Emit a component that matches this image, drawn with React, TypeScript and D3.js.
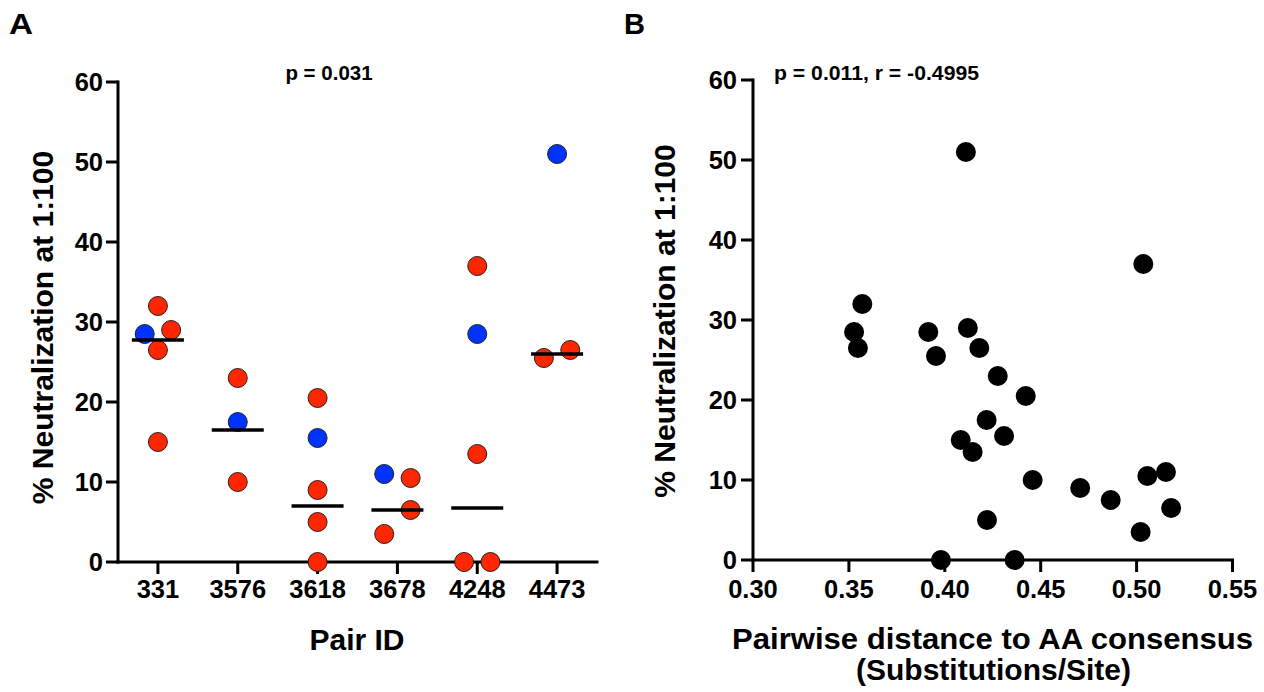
import React from "react";
import * as d3 from "d3";

// ---------- Panel A data ----------
const pairIds = ["331", "3576", "3618", "3678", "4248", "4473"];
const redValues: number[][] = [
  [32, 29, 26.5, 15],
  [23, 10],
  [20.5, 9, 5, 0],
  [10.5, 6.5, 3.5],
  [37, 13.5, 0, 0],
  [25.5, 26.5],
];
// horizontal dodge slot of each point (-1 left, 0 centre, 1 right)
const redDodge: number[][] = [
  [0, 1, 0, 0],
  [0, 0],
  [0, 0, 0, 0],
  [1, 1, -1],
  [0, 0, -1, 1],
  [-1, 1],
];
const blueValues = [28.5, 17.5, 15.5, 11, 28.5, 51];
const blueDodge = [-1, 0, 0, -1, 0, 0];
const yTicks = [0, 10, 20, 30, 40, 50, 60];

// ---------- Panel B data ----------
const distance = [
  0.411, 0.5035, 0.357, 0.3527, 0.3547, 0.3914, 0.3954, 0.412, 0.418, 0.4276,
  0.4422, 0.4218, 0.4309, 0.4083, 0.4145, 0.4458, 0.4706, 0.4865, 0.5056,
  0.5153, 0.518, 0.5021, 0.422, 0.398, 0.4364,
];
const neutralization = [
  51, 37, 32, 28.5, 26.5, 28.5, 25.5, 29, 26.5, 23, 20.5, 17.5, 15.5, 15, 13.5,
  10, 9, 7.5, 10.5, 11, 6.5, 3.5, 5, 0, 0,
];
const xTicksB = [0.3, 0.35, 0.4, 0.45, 0.5, 0.55];

const FONT = "'Liberation Sans', Arial, Helvetica, sans-serif";
const RED = "#ff2600";
const BLUE = "#0033ff";

export default function App() {
  // Panel A scales
  const xA = d3.scaleBand<string>().domain(pairIds).range([118, 597]);
  const cx = (id: string) => (xA(id) as number) + xA.bandwidth() / 2;
  const yA = d3.scaleLinear().domain([0, 60]).range([562, 82]);
  const dodgePx = 13.2;
  const medians = redValues.map((v) => d3.median(v) as number);

  // Panel B scales
  const xB = d3.scaleLinear().domain([0.3, 0.55]).range([753, 1232.5]);
  const yB = d3.scaleLinear().domain([0, 60]).range([560, 80]);
  const fmt = d3.format(".2f");

  const axisW = 3;
  const tickLen = 12;

  return (
    <svg
      width={1264}
      height={692}
      style={{ position: "fixed", left: 0, top: 0, background: "#fff" }}
      fontFamily={FONT}
      fontWeight="bold"
    >
      <rect x={0} y={0} width={1264} height={692} fill="#fff" />
      {/* ===== Panel A ===== */}
      <text x={9} y={34} fontSize={29} textLength={24} lengthAdjust="spacingAndGlyphs">A</text>
      <text x={329} y={80} fontSize={20.5} textAnchor="middle">p = 0.031</text>

      {/* y axis */}
      <line x1={xA.range()[0]} x2={xA.range()[0]} y1={yA(60)} y2={yA(0)} stroke="#000" strokeWidth={axisW} strokeLinecap="square" />
      {yTicks.map((t) => (
        <g key={"ya" + t}>
          <line x1={118 - tickLen} x2={118} y1={yA(t)} y2={yA(t)} stroke="#000" strokeWidth={axisW} />
          <text x={103} y={yA(t)} dy="0.36em" fontSize={25.5} textAnchor="end">{t}</text>
        </g>
      ))}
      {/* x axis */}
      <line x1={xA.range()[0]} x2={xA.range()[1]} y1={yA(0)} y2={yA(0)} stroke="#000" strokeWidth={axisW} strokeLinecap="square" />
      {pairIds.map((id) => (
        <g key={"xa" + id}>
          <line x1={cx(id)} x2={cx(id)} y1={yA(0)} y2={yA(0) + tickLen} stroke="#000" strokeWidth={axisW} />
          <text x={cx(id)} y={598} fontSize={25.5} textAnchor="middle">{id}</text>
        </g>
      ))}
      <text x={357} y={650} fontSize={30} textAnchor="middle">Pair ID</text>
      <text transform="translate(53,327.5) rotate(-90)" fontSize={30} textAnchor="middle">% Neutralization at 1:100</text>

      {/* blue points */}
      {pairIds.map((id, i) => (
        <circle key={"b" + id} cx={cx(id) + blueDodge[i] * dodgePx} cy={yA(blueValues[i])} r={9.5} fill={BLUE} stroke="#222" strokeWidth={1} />
      ))}
      {/* red points */}
      {pairIds.map((id, i) =>
        redValues[i].map((v, j) => (
          <circle key={"r" + id + j} cx={cx(id) + redDodge[i][j] * dodgePx} cy={yA(v)} r={9.5} fill={RED} stroke="#222" strokeWidth={1} />
        ))
      )}
      {/* median lines */}
      {pairIds.map((id, i) => (
        <line key={"m" + id} x1={cx(id) - 26} x2={cx(id) + 26} y1={yA(medians[i])} y2={yA(medians[i])} stroke="#000" strokeWidth={3.5} />
      ))}

      {/* ===== Panel B ===== */}
      <text x={624} y={34} fontSize={29} textLength={21} lengthAdjust="spacingAndGlyphs">B</text>
      <text x={774} y={80} fontSize={20.5} textLength={205} lengthAdjust="spacingAndGlyphs">p = 0.011, r = -0.4995</text>

      <line x1={xB(0.3)} x2={xB(0.3)} y1={yB(60)} y2={yB(0)} stroke="#000" strokeWidth={axisW} strokeLinecap="square" />
      {yTicks.map((t) => (
        <g key={"yb" + t}>
          <line x1={xB(0.3) - tickLen} x2={xB(0.3)} y1={yB(t)} y2={yB(t)} stroke="#000" strokeWidth={axisW} />
          <text x={737} y={yB(t)} dy="0.36em" fontSize={25.5} textAnchor="end">{t}</text>
        </g>
      ))}
      <line x1={xB(0.3)} x2={xB(0.55)} y1={yB(0)} y2={yB(0)} stroke="#000" strokeWidth={axisW} strokeLinecap="square" />
      {xTicksB.map((t) => (
        <g key={"xb" + t}>
          <line x1={xB(t)} x2={xB(t)} y1={yB(0)} y2={yB(0) + tickLen} stroke="#000" strokeWidth={axisW} />
          <text x={xB(t)} y={598} fontSize={25.5} textAnchor="middle">{fmt(t)}</text>
        </g>
      ))}
      <text x={732} y={649} fontSize={30} textLength={521} lengthAdjust="spacingAndGlyphs">Pairwise distance to AA consensus</text>
      <text x={856} y={680} fontSize={30} textLength={275} lengthAdjust="spacingAndGlyphs">(Substitutions/Site)</text>
      <text transform="translate(675,321) rotate(-90)" fontSize={30} textAnchor="middle">% Neutralization at 1:100</text>

      {distance.map((d, i) => (
        <circle key={"p" + i} cx={xB(d)} cy={yB(neutralization[i])} r={10} fill="#000" />
      ))}
    </svg>
  );
}
